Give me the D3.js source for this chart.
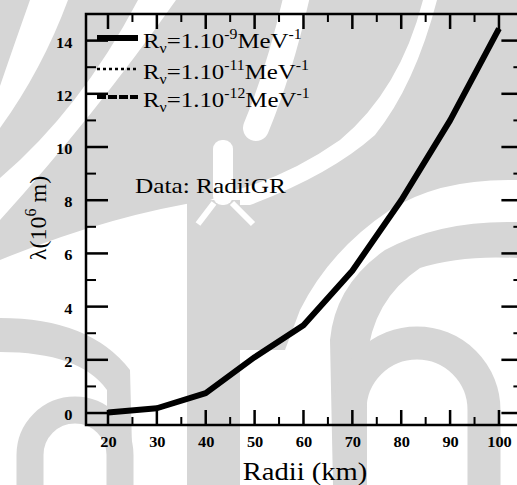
<!DOCTYPE html>
<html>
<head>
<meta charset="utf-8">
<script src="https://cdn.jsdelivr.net/npm/d3@7"></script>
<style>
  body { margin: 0; background: #fff; }
  svg { display: block; }
  text { font-family: "Liberation Serif", "Times New Roman", serif; fill: #000; }
</style>
</head>
<body>
<svg id="chart" width="517" height="485"></svg>
<script>
// Radius of the star (km) and mean free path lambda (10^6 m)
const radii      = [20, 30, 40, 50, 60, 70, 80, 90, 100];
const lambdaR9   = [0.02, 0.18, 0.75, 2.1, 3.3, 5.35, 8.0, 11.0, 14.45];
const lambdaR11  = [0.02, 0.18, 0.75, 2.1, 3.3, 5.35, 8.0, 11.0, 14.45];
const lambdaR12  = [0.02, 0.18, 0.75, 2.1, 3.3, 5.35, 8.0, 11.0, 14.45];

const seriesExponents = ["-9", "-11", "-12"];
const seriesStyles    = ["solid", "dotted", "dashed"];

const xMajorTicks = [20, 30, 40, 50, 60, 70, 80, 90, 100];
const xMinorTicks = [25, 35, 45, 55, 65, 75, 85, 95];
const yMajorTicks = [0, 2, 4, 6, 8, 10, 12, 14];
const yMinorTicks = [1, 3, 5, 7, 9, 11, 13];

const svg = d3.select("#chart");

// ---- faint background emblem (light grey bands) ----
const emblem = svg.append("g").attr("fill", "#d6d6d6").attr("stroke", "none");
const emblemFills = [
  "M0,0 L30,0 Q14,45 0,86 Z",
  "M68,0 L138,0 Q80,110 0,178 L0,128 Q42,70 68,0 Z",
  "M176,0 L423,0 Q400,90 340,140 Q290,175 236,190 L210,200 Q110,215 0,260 L0,220 Q95,115 176,0 Z",
  "M437,0 L517,0 L517,180 Q440,178 390,210 Q330,250 300,310 L285,350 L240,350 L240,205 L250,205 Q330,175 375,135 Q415,85 437,0 Z",
  "M187,200 L240,200 L240,485 L187,485 Z",
  "M517,222 Q440,220 385,250 Q335,285 330,340 L333,485 L367,485 L367,360 Q372,300 420,268 Q460,255 517,258 Z",
  "M0,318 Q90,318 130,370 L133,485 L107,485 L107,390 Q80,352 0,352 Z"
];
emblemFills.forEach(d => emblem.append("path").attr("d", d));
const emblemArches = [
  { d: "M350,485 L350,410 A67,67 0 0 1 484,410 L484,485", w: 33 },
  { d: "M30,485 L30,455 A45,45 0 0 1 120,455 L120,485", w: 27 }
];
emblemArches.forEach(a => emblem.append("path").attr("d", a.d)
  .attr("fill", "none").attr("stroke", "#d6d6d6").attr("stroke-width", a.w));
// light gaps inside the emblem
emblem.append("path").attr("d", "M297,-5 Q280,70 256,128")
  .attr("fill", "none").attr("stroke", "#fff").attr("stroke-width", 26).attr("stroke-linecap", "round");
emblem.append("rect").attr("x", 213).attr("y", 140).attr("width", 20).attr("height", 65)
  .attr("rx", 9).attr("fill", "#fff");
emblem.append("path").attr("d", "M214,203 L198,224 M232,203 L253,224")
  .attr("fill", "none").attr("stroke", "#fff").attr("stroke-width", 6);

// ---- scales ----
const x = d3.scaleLinear().domain([15.5, 105]).range([86, 523.4]);
const y = d3.scaleLinear().domain([-0.45, 15]).range([425, 14]);

const plotLeft = x.range()[0], plotRight = x.range()[1];
const plotTop = y.range()[1], plotBottom = y.range()[0];

// ---- tick marks as small filled bars, pointing inward on all four sides ----
const tickGroup = svg.append("g").attr("class", "tickmarks").attr("fill", "#000");
function xTickBars(values, len, w) {
  values.forEach(v => {
    tickGroup.append("rect").attr("x", x(v) - w / 2).attr("y", plotBottom - len)
      .attr("width", w).attr("height", len);
    tickGroup.append("rect").attr("x", x(v) - w / 2).attr("y", plotTop)
      .attr("width", w).attr("height", len);
  });
}
function yTickBars(values, len, w) {
  values.forEach(v => {
    tickGroup.append("rect").attr("x", plotLeft).attr("y", y(v) - w / 2)
      .attr("width", len).attr("height", w);
    tickGroup.append("rect").attr("x", plotRight - len).attr("y", y(v) - w / 2)
      .attr("width", len).attr("height", w);
  });
}
xTickBars(xMajorTicks, 15, 2.5);
xTickBars(xMinorTicks, 8, 2);
yTickBars(yMajorTicks, 22, 2.5);
yTickBars(yMinorTicks, 10, 2);

// tick labels through d3 axes (tick lines hidden)
svg.append("g").attr("transform", `translate(0,${plotBottom})`)
  .call(d3.axisBottom(x).tickValues(xMajorTicks).tickSize(0).tickPadding(12))
  .call(g => g.select(".domain").remove())
  .call(g => g.selectAll("text")
    .attr("font-size", 14.5).attr("font-weight", "bold")
    .attr("font-family", "Liberation Serif, serif")
    .attr("transform", "scale(1.13,1)"));

svg.append("g").attr("transform", `translate(${plotLeft},0)`)
  .call(d3.axisLeft(y).tickValues(yMajorTicks).tickSize(0).tickPadding(12))
  .call(g => g.select(".domain").remove())
  .call(g => g.selectAll("text")
    .attr("font-size", 14.5).attr("font-weight", "bold")
    .attr("font-family", "Liberation Serif, serif")
    .attr("dy", "0.45em")
    .attr("transform", "scale(1.13,1)"));

// frame
svg.append("rect")
  .attr("x", plotLeft).attr("y", plotTop)
  .attr("width", plotRight - plotLeft).attr("height", plotBottom - plotTop)
  .attr("fill", "none").attr("stroke", "#000").attr("stroke-width", 2.5);

// ---- curves ----
const line = d3.line().x(d => x(d[0])).y(d => y(d[1]));
const styleAttrs = {
  solid:  { width: 6,   dash: null },
  dotted: { width: 2.5, dash: "3,3" },
  dashed: { width: 4,   dash: "9,2" }
};
const seriesData = [lambdaR9, lambdaR11, lambdaR12];

// dashed and dotted first, solid on top
[2, 1, 0].forEach(i => {
  const st = styleAttrs[seriesStyles[i]];
  svg.append("path")
    .datum(radii.map((r, k) => [r, seriesData[i][k]]))
    .attr("d", line)
    .attr("fill", "none")
    .attr("stroke", "#000")
    .attr("stroke-width", st.width)
    .attr("stroke-linejoin", "round")
    .attr("stroke-dasharray", st.dash);
});

// ---- legend ----
const legendRowsY = [38, 69, 97];
seriesExponents.forEach((ex, i) => {
  const st = styleAttrs[seriesStyles[i]];
  const ly = legendRowsY[i];
  svg.append("line")
    .attr("x1", 97).attr("x2", 138).attr("y1", ly).attr("y2", ly)
    .attr("stroke", "#000").attr("stroke-width", st.width)
    .attr("stroke-dasharray", st.dash);

  const t = svg.append("g")
    .attr("transform", `translate(143,${ly + 10}) scale(1.13,1)`)
    .append("text").attr("font-size", 22);
  t.append("tspan").text("R");
  t.append("tspan").attr("font-size", 14).attr("dy", 5).text("\u03BD");
  t.append("tspan").attr("dy", -5).text("=1.10");
  t.append("tspan").attr("font-size", 14).attr("dy", -9).text(ex);
  t.append("tspan").attr("dy", 9).text("MeV");
  t.append("tspan").attr("font-size", 14).attr("dy", -9).text("-1");
});

// annotation
svg.append("g").attr("transform", "translate(135,193) scale(1.15,1)")
  .append("text").attr("font-size", 22).text("Data: RadiiGR");

// axis titles
svg.append("g").attr("transform", "translate(305,480) scale(1.1,1)")
  .append("text").attr("font-size", 26).attr("text-anchor", "middle").text("Radii (km)");

const yTitle = svg.append("g").attr("transform", "translate(46,218) rotate(-90)")
  .append("text").attr("font-size", 24).attr("text-anchor", "middle");
yTitle.append("tspan").text("\u03BB(10");
yTitle.append("tspan").attr("font-size", 16).attr("dy", -10).text("6");
yTitle.append("tspan").attr("dy", 10).text(" m)");
</script>
</body>
</html>
